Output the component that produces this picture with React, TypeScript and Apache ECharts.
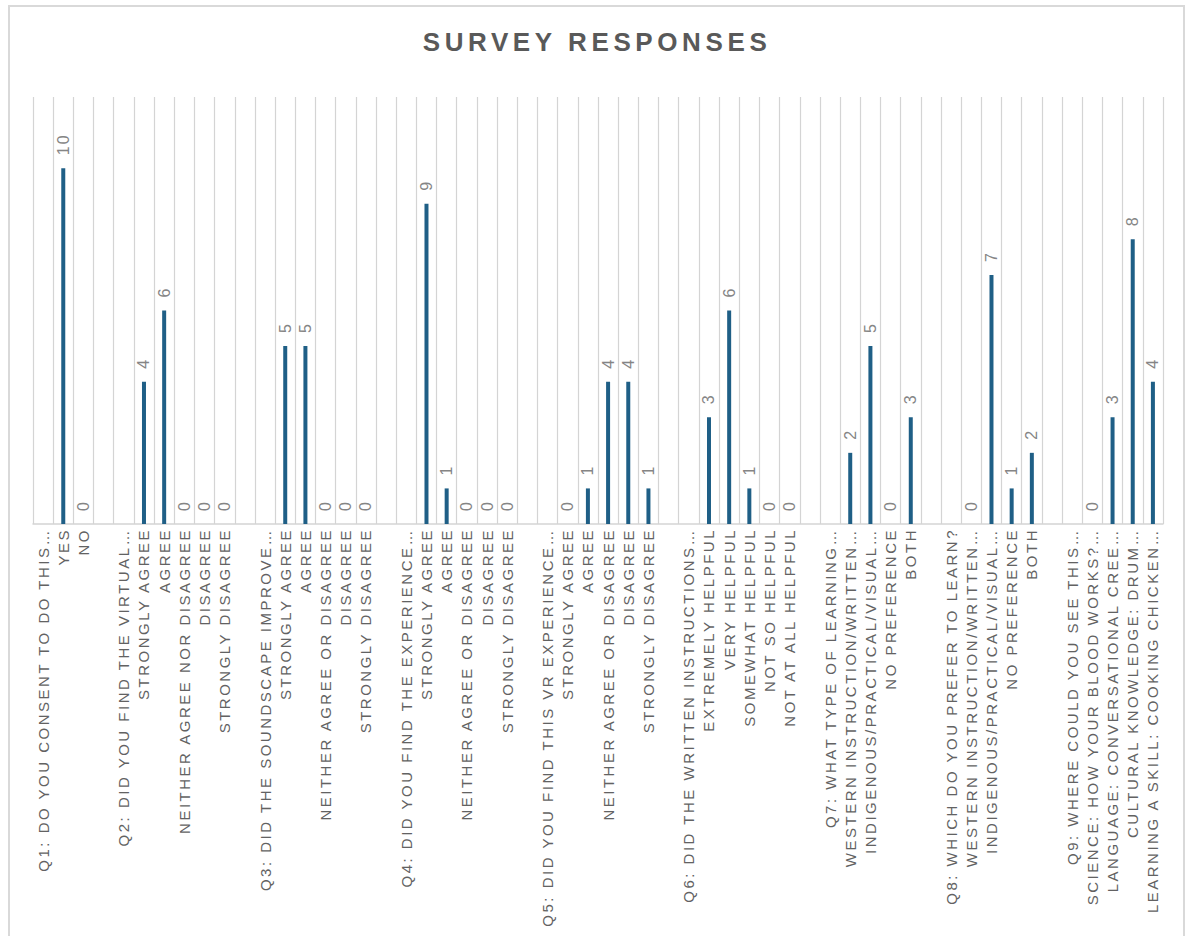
import React, { useEffect, useRef } from "react";
import * as echarts from "echarts";

const TITLE = "SURVEY RESPONSES";

const q1Labels = ["Q1: DO YOU CONSENT TO DO THIS…", "YES", "NO"];
const q1Values = [null, 10, 0];
const q2Labels = ["Q2: DID YOU FIND THE VIRTUAL…", "STRONGLY AGREE", "AGREE", "NEITHER AGREE NOR DISAGREE", "DISAGREE", "STRONGLY DISAGREE"];
const q2Values = [null, 4, 6, 0, 0, 0];
const q3Labels = ["Q3: DID THE SOUNDSCAPE IMPROVE…", "STRONGLY AGREE", "AGREE", "NEITHER AGREE OR DISAGREE", "DISAGREE", "STRONGLY DISAGREE"];
const q3Values = [null, 5, 5, 0, 0, 0];
const q4Labels = ["Q4: DID YOU FIND THE EXPERIENCE…", "STRONGLY AGREE", "AGREE", "NEITHER AGREE OR DISAGREE", "DISAGREE", "STRONGLY DISAGREE"];
const q4Values = [null, 9, 1, 0, 0, 0];
const q5Labels = ["Q5: DID YOU FIND THIS VR EXPERIENCE…", "STRONGLY AGREE", "AGREE", "NEITHER AGREE OR DISAGREE", "DISAGREE", "STRONGLY DISAGREE"];
const q5Values = [null, 0, 1, 4, 4, 1];
const q6Labels = ["Q6: DID THE WRITTEN INSTRUCTIONS…", "EXTREMELY HELPFUL", "VERY HELPFUL", "SOMEWHAT HELPFUL", "NOT SO HELPFUL", "NOT AT ALL HELPFUL"];
const q6Values = [null, 3, 6, 1, 0, 0];
const q7Labels = ["Q7: WHAT TYPE OF LEARNING…", "WESTERN INSTRUCTION/WRITTEN…", "INDIGENOUS/PRACTICAL/VISUAL…", "NO PREFERENCE", "BOTH"];
const q7Values = [null, 2, 5, 0, 3];
const q8Labels = ["Q8: WHICH DO YOU PREFER TO LEARN?", "WESTERN INSTRUCTION/WRITTEN…", "INDIGENOUS/PRACTICAL/VISUAL…", "NO PREFERENCE", "BOTH"];
const q8Values = [null, 0, 7, 1, 2];
const q9Labels = ["Q9: WHERE COULD YOU SEE THIS…", "SCIENCE: HOW YOUR BLOOD WORKS?…", "LANGUAGE: CONVERSATIONAL CREE…", "CULTURAL KNOWLEDGE: DRUM…", "LEARNING A SKILL: COOKING CHICKEN…"];
const q9Values = [null, 0, 3, 8, 4];

const groupLabels = [q1Labels, q2Labels, q3Labels, q4Labels, q5Labels, q6Labels, q7Labels, q8Labels, q9Labels];
const groupValues = [q1Values, q2Values, q3Values, q4Values, q5Values, q6Values, q7Values, q8Values, q9Values];

const categories: string[] = [];
const values: (number | null)[] = [];
groupLabels.forEach((labels, gi) => {
  labels.forEach((l, i) => {
    categories.push(l);
    values.push(groupValues[gi][i]);
  });
  if (gi < groupLabels.length - 1) {
    categories.push("");
    values.push(null);
  }
});

export default function App() {
  const ref = useRef<HTMLDivElement>(null);
  useEffect(() => {
    const el = ref.current!;
    const chart = echarts.init(el, null, { renderer: "svg" });
    const font = "'Liberation Sans', Arial, sans-serif";
    chart.setOption({
      animation: false,
      backgroundColor: "#ffffff",
      grid: { left: 33, right: 24, top: 97, bottom: 412, containLabel: false },
      graphic: [
        {
          type: "rect",
          shape: { x: 9, y: 6, width: 1175, height: 960 },
          style: { fill: "none", stroke: "#d9d9d9", lineWidth: 2 },
          silent: true,
        },
        {
          type: "text",
          x: 597,
          y: 42,
          style: {
            text: TITLE,
            textAlign: "center",
            textVerticalAlign: "middle",
            fontSize: 26,
            fontWeight: "bold",
            fontFamily: font,
            fill: "#595959",
          },
        },
      ],
      xAxis: {
        type: "category",
        data: categories,
        boundaryGap: true,
        axisLine: { show: true, lineStyle: { color: "#d4d4d4", width: 1.5 } },
        axisTick: { show: false },
        splitLine: { show: true, lineStyle: { color: "#d4d4d4", width: 1.2 } },
        axisLabel: {
          interval: 0,
          rotate: 90,
          margin: 4,
          fontSize: 15,
          fontFamily: font,
          color: "#626262",
        },
      },
      yAxis: {
        type: "value",
        min: 0,
        max: 12,
        show: false,
        splitLine: { show: false },
      },
      series: [
        {
          type: "bar",
          data: values,
          barWidth: 4,
          itemStyle: { color: "#1f5f86" },
          label: {
            show: true,
            position: "top",
            distance: 13,
            rotate: 90,
            align: "left",
            verticalAlign: "middle",
            fontSize: 16,
            fontFamily: font,
            color: "#858585",
          },
        },
      ],
    });
    const applySpacing = () => {
      el.querySelectorAll("text").forEach((t) => {
        const txt = t.textContent || "";
        let s = "2.5px";
        if (txt === TITLE) s = "4.6px";
        else if (/^\d+$/.test(txt)) s = "2px";
        t.setAttribute("letter-spacing", s);
      });
    };
    applySpacing();
    chart.on("finished", applySpacing);
    const raf = requestAnimationFrame(applySpacing);
    return () => {
      cancelAnimationFrame(raf);
      chart.dispose();
    };
  }, []);
  return (
    <div
      ref={ref}
      style={{ position: "absolute", left: 0, top: 0, width: 1187, height: 936 }}
    />
  );
}
